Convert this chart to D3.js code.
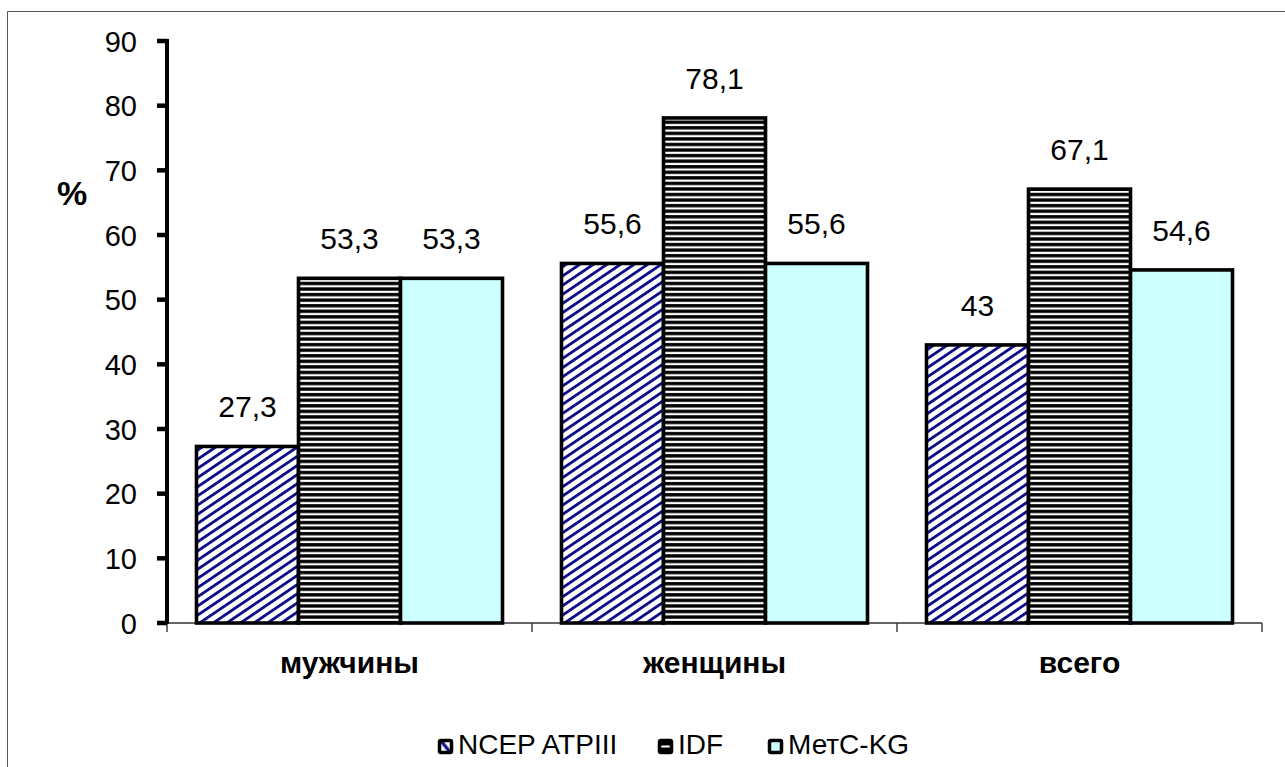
<!DOCTYPE html>
<html>
<head>
<meta charset="utf-8">
<script src="https://cdn.jsdelivr.net/npm/d3@7"></script>
<style>
  html, body { margin: 0; padding: 0; background: #fff; }
  svg { display: block; font-family: Arial, "Liberation Sans", sans-serif; }
</style>
</head>
<body>
<svg id="chart" width="1285" height="767"></svg>
<script>
// Categories and series
const categories = ["мужчины", "женщины", "всего"];
const seriesNames = ["NCEP ATPIII", "IDF", "МетС-KG"];
const ncepValues = [27.3, 55.6, 43];
const idfValues = [53.3, 78.1, 67.1];
const metcValues = [53.3, 55.6, 54.6];
const yTicks = [0, 10, 20, 30, 40, 50, 60, 70, 80, 90];

const series = [ncepValues, idfValues, metcValues];
const fills = ["url(#diag)", "url(#hstripe)", "#ccffff"];
const swatchFills = ["url(#diagSwatch)", "url(#hSwatch)", "#ccffff"];

const svg = d3.select("#chart");

// Fill patterns
const defs = svg.append("defs");
const diag = defs.append("pattern")
  .attr("id", "diag")
  .attr("patternUnits", "userSpaceOnUse")
  .attr("width", 8).attr("height", 7.6)
  .attr("patternTransform", "rotate(-34)");
diag.append("rect").attr("width", 8).attr("height", 7.6).attr("fill", "#fff");
diag.append("rect").attr("y", 0).attr("width", 8).attr("height", 2.8).attr("fill", "#0b0b8c");

const hs = defs.append("pattern")
  .attr("id", "hstripe")
  .attr("patternUnits", "userSpaceOnUse")
  .attr("width", 10).attr("height", 5.56);
hs.append("rect").attr("width", 10).attr("height", 5.56).attr("fill", "#000");
hs.append("rect").attr("y", 1.6).attr("width", 10).attr("height", 2.2).attr("fill", "#fff");

// Small legend markers
const ds = defs.append("pattern").attr("id", "diagSwatch")
  .attr("patternUnits", "objectBoundingBox").attr("width", 1).attr("height", 1);
ds.append("rect").attr("width", 12).attr("height", 12).attr("fill", "#fff");
ds.append("line").attr("x1", 2).attr("y1", 1).attr("x2", 10).attr("y2", 11)
  .attr("stroke", "#0b0b8c").attr("stroke-width", 3.2);
const hsw = defs.append("pattern").attr("id", "hSwatch")
  .attr("patternUnits", "objectBoundingBox").attr("width", 1).attr("height", 1);
hsw.append("rect").attr("width", 12).attr("height", 12).attr("fill", "#000");
hsw.append("rect").attr("x", 0).attr("y", 5).attr("width", 12).attr("height", 2).attr("fill", "#fff");

// Outer frame (top and left edges)
svg.append("line").attr("x1", 7.5).attr("x2", 1285).attr("y1", 11.5).attr("y2", 11.5)
  .attr("stroke", "#555").attr("stroke-width", 1);
svg.append("line").attr("x1", 7.5).attr("x2", 7.5).attr("y1", 11.5).attr("y2", 767)
  .attr("stroke", "#555").attr("stroke-width", 1);

// Scales
const plotLeft = 167, plotRight = 1262, plotTop = 41, plotBottom = 623;
const x = d3.scaleBand().domain(categories).range([plotLeft, plotRight])
  .paddingInner(0.1616).paddingOuter(0.0808);
const xs = d3.scaleBand().domain(d3.range(seriesNames.length)).range([0, x.bandwidth()]);
const y = d3.scaleLinear().domain([0, 90]).range([plotBottom, plotTop]);

// X axis: thin baseline with ticks at category boundaries
const gap = x.step() * x.paddingInner() / 2;
const bounds = categories.map(c => x(c) - gap).concat([plotRight]);
svg.append("line").attr("x1", plotLeft).attr("x2", plotRight).attr("y1", plotBottom).attr("y2", plotBottom)
  .attr("stroke", "#333").attr("stroke-width", 1.4);
svg.selectAll(".xtick").data(bounds).join("line")
  .attr("x1", d => d).attr("x2", d => d)
  .attr("y1", plotBottom).attr("y2", plotBottom + 9)
  .attr("stroke", "#333").attr("stroke-width", 1.4);

// Category labels
svg.selectAll(".cat").data(categories).join("text")
  .attr("x", d => x(d) + x.bandwidth() / 2)
  .attr("y", 673)
  .attr("text-anchor", "middle")
  .attr("font-weight", "bold")
  .attr("font-size", 30)
  .text(d => d);

// Bars
const groups = svg.selectAll(".grp").data(categories).join("g")
  .attr("transform", d => `translate(${x(d)},0)`);
groups.each(function(cat, ci) {
  const g = d3.select(this);
  series.forEach((vals, si) => {
    g.append("rect")
      .attr("x", xs(si))
      .attr("y", y(vals[ci]))
      .attr("width", xs.bandwidth())
      .attr("height", y(0) - y(vals[ci]))
      .attr("fill", fills[si])
      .attr("stroke", "#000")
      .attr("stroke-width", 3.6);
    g.append("text")
      .attr("x", xs(si) + xs.bandwidth() / 2)
      .attr("y", y(vals[ci]) - 29)
      .attr("text-anchor", "middle")
      .attr("font-size", 30)
      .text(String(vals[ci]).replace(".", ","));
  });
});

// Y axis: labels from d3.axisLeft, heavy spine and tick marks drawn on top
const yAxis = d3.axisLeft(y).tickValues(yTicks).tickSize(0).tickSizeOuter(0).tickPadding(30);
const ya = svg.append("g").attr("transform", `translate(${plotLeft},0)`).call(yAxis);
ya.select(".domain").remove();
ya.selectAll(".tick line").remove();
ya.selectAll(".tick text").attr("font-size", 29).attr("fill", "#000")
  .attr("dy", "0.35em")
  .attr("font-family", "Arial, 'Liberation Sans', sans-serif");

svg.append("line")
  .attr("x1", plotLeft).attr("x2", plotLeft)
  .attr("y1", y(90) - 2).attr("y2", y(0) + 1)
  .attr("stroke", "#000").attr("stroke-width", 4);
svg.selectAll(".ytick").data(yTicks).join("line")
  .attr("x1", plotLeft - 10).attr("x2", plotLeft)
  .attr("y1", d => y(d)).attr("y2", d => y(d))
  .attr("stroke", "#000").attr("stroke-width", 4.5);

// Axis title
svg.append("text").attr("x", 72).attr("y", 205).attr("text-anchor", "middle")
  .attr("font-weight", "bold").attr("font-size", 34).text("%");

// Legend
const legendX = [438, 658, 768];
const lg = svg.selectAll(".leg").data(seriesNames).join("g")
  .attr("transform", (d, i) => `translate(${legendX[i]},739)`);
lg.append("rect").attr("x", 1.5).attr("y", 1.5).attr("width", 12).attr("height", 12)
  .attr("rx", 1.5)
  .attr("fill", (d, i) => swatchFills[i]).attr("stroke", "#000").attr("stroke-width", 3.5);
lg.append("text").attr("x", 20).attr("y", 15).attr("font-size", 28).text(d => d);
</script>
</body>
</html>
